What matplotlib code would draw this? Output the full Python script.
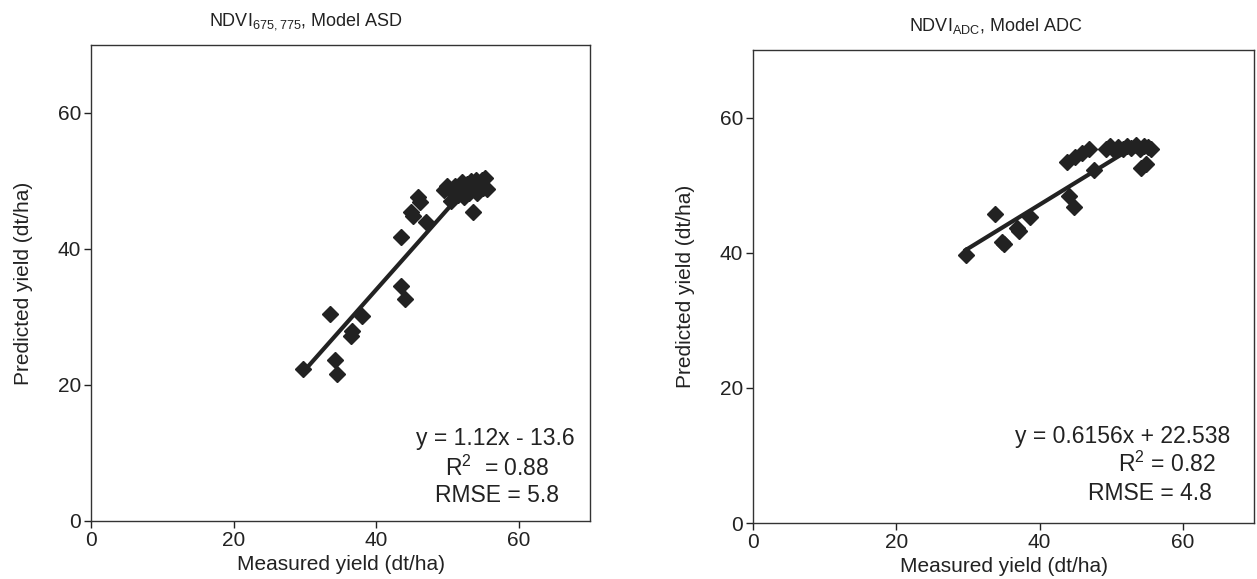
import numpy as np
import matplotlib.pyplot as plt

plt.rcParams['font.family'] = ['Liberation Sans', 'DejaVu Sans']

# NDVI 675,775 - Model ASD
asd_measured = [29.8, 33.5, 34.2, 34.5, 36.4, 36.6, 38.0, 43.5, 44.1, 43.5, 44.9, 45.1,
                45.9, 46.2, 47.0, 53.6, 49.5, 50.0, 50.5, 50.8, 51.0, 51.5, 52.0, 52.3,
                52.7, 53.0, 53.3, 53.6, 54.0, 54.2, 54.5, 54.8, 55.0, 55.3, 55.5, 52.0]
asd_predicted = [22.3, 30.4, 23.7, 21.6, 27.2, 28.0, 30.1, 34.5, 32.7, 41.8, 45.4, 44.8,
                 47.6, 46.9, 43.9, 45.5, 48.7, 49.2, 47.0, 48.3, 49.2, 48.0, 48.8, 47.7,
                 49.5, 48.3, 50.0, 49.1, 50.2, 48.3, 49.6, 50.1, 49.0, 50.5, 48.8, 49.8]

# NDVI ADC - Model ADC
adc_measured = [29.7, 33.8, 34.8, 35.0, 36.9, 37.2, 38.7, 43.9, 45.0, 45.9, 46.9, 47.6,
                44.1, 44.8, 49.3, 49.8, 50.4, 51.0, 51.6, 52.2, 52.8, 53.4, 54.0, 54.6,
                55.2, 55.6, 54.1, 54.8]
adc_predicted = [39.6, 45.8, 41.6, 41.3, 43.7, 43.2, 45.3, 53.5, 54.2, 54.8, 55.3, 52.2,
                 48.4, 46.8, 55.3, 55.8, 55.2, 55.6, 55.4, 55.8, 55.5, 55.9, 55.4, 55.8,
                 55.6, 55.3, 52.6, 53.2]

ticks = [0, 20, 40, 60]

fig = plt.figure(figsize=(12.57, 5.79), dpi=100)
ax1 = fig.add_axes([0.0724, 0.1002, 0.3970, 0.8221])
ax2 = fig.add_axes([0.5990, 0.0967, 0.3990, 0.8169])

panels = [
    (ax1, asd_measured, asd_predicted,
     ["y = 1.12x - 13.6", "R$^{\\mathregular{2}}$  = 0.88", "RMSE = 5.8"],
     [(56.7, 12.1), (57.0, 7.8), (57.0, 3.8)]),
    (ax2, adc_measured, adc_predicted,
     ["y = 0.6156x + 22.538", "R$^{\\mathregular{2}}$ = 0.82", "RMSE = 4.8"],
     [(51.6, 12.8), (57.8, 8.7), (55.4, 4.4)]),
]

for ax, mx, py, notes, pos in panels:
    mx = np.array(mx)
    py = np.array(py)
    k, b = np.polyfit(mx, py, 1)
    xs = np.array([mx.min(), 53.5])
    ax.plot(xs, k * xs + b, color='#222222', lw=3, zorder=2)
    ax.plot(mx, py, 'D', color='#222222', ms=8.5, zorder=3)
    ax.set_xlim(0, 70)
    ax.set_ylim(0, 70)
    ax.set_xticks(ticks)
    ax.set_yticks(ticks)
    ax.tick_params(labelsize=15, length=5, width=1, colors='#222222', direction='out', pad=2)
    for s in ax.spines.values():
        s.set_linewidth(1)
        s.set_color('#333333')
    ax.set_xlabel("Measured yield (dt/ha)", fontsize=15, color='#222222', labelpad=4)
    ax.set_ylabel("Predicted yield (dt/ha)", fontsize=15, color='#222222', labelpad=18)
    for t, (x, y) in zip(notes, pos):
        ax.text(x, y, t, fontsize=16.5, color='#222222', ha='center', va='center')

fig.text(0.243, 0.962, "NDVI$_{\\mathregular{675,775}}$, Model ASD", fontsize=13,
         ha='center', va='center', color='#222222')
fig.text(0.792, 0.955, "NDVI$_{\\mathregular{ADC}}$, Model ADC", fontsize=13,
         ha='center', va='center', color='#222222')

fig.savefig("out.png", dpi=100)
